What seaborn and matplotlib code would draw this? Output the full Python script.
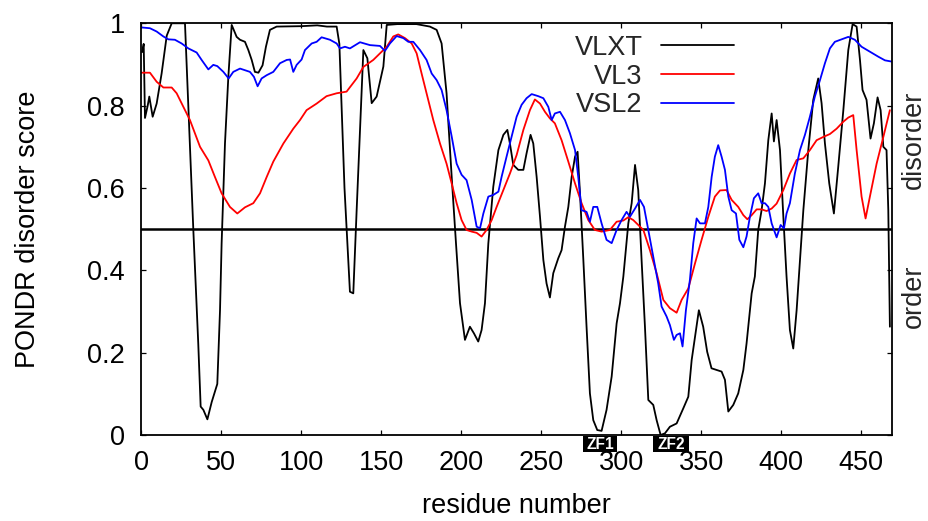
import matplotlib
matplotlib.use("Agg")
import matplotlib.pyplot as plt
from matplotlib.patches import Rectangle
import pandas as pd
import seaborn as sns

# PONDR VLXT predictor
vlxt_res = [0.5, 1.5, 2.3, 4, 5, 7.1, 9.6, 12.7, 15.9, 19, 27.3, 32.5, 35.6, 37.1, 38.8,
            41.3, 44, 47.5, 49.2, 50.2, 52.3, 54.4, 56.5, 59.6, 61.7, 64.8, 66.9, 69, 71,
            73.2, 75.8, 77.9, 80.4, 84.6, 100, 110, 116, 122.1, 123.8, 127, 130.4, 132.5,
            134.6, 138.8, 141.3, 144, 147.1, 149.2, 151.3, 153.4, 160, 172, 180.4, 184.6,
            187.7, 190.8, 194, 196.7, 199.2, 202.3, 205.4, 207.9, 210.6, 212.7, 214.8,
            216.9, 220, 223.2, 226.3, 228.8, 230.4, 232.5, 235.6, 238.8, 240.8, 243.3, 245,
            247.1, 249.2, 251.3, 253.3, 255.4, 257.5, 260.6, 262.7, 264.8, 266.9, 269,
            271.1, 272.7, 274.2, 276.3, 278.3, 280.4, 282.5, 285, 287.7, 290.8, 294, 297.1,
            299.2, 301.3, 304.4, 306.5, 308.6, 310.6, 312.7, 314.8, 316.9, 320, 322.1,
            324.6, 327.3, 330.4, 334.6, 338.8, 341.9, 344, 346.1, 348.5, 351.2, 353.7,
            356.4, 359.6, 362.7, 364.8, 366.9, 370, 373.1, 376.3, 378.3, 381.5, 383.5,
            385.6, 387.7, 389.8, 391.9, 394, 395.4, 397.1, 399.2, 401.3, 403.3, 405.4,
            407.5, 409.6, 411.7, 413.8, 416.9, 420, 423.1, 425.2, 427.3, 430, 432.9, 435.6,
            438.8, 441.9, 444.6, 447.1, 449.2, 450.8, 453.3, 455.8, 457.9, 460.2, 462.1,
            463.8, 465.8, 466.9, 467.9]
vlxt_score = [0.93, 0.95, 0.77, 0.80, 0.822, 0.773, 0.805, 0.878, 0.97, 1.0, 1.0, 0.5,
              0.222, 0.069, 0.061, 0.038, 0.08, 0.124, 0.303, 0.465, 0.708, 0.87, 0.996,
              0.967, 0.96, 0.955, 0.935, 0.911, 0.882, 0.88, 0.898, 0.943, 0.984, 0.992,
              0.993, 0.995, 0.992, 0.992, 0.95, 0.6, 0.348, 0.344, 0.546, 0.935, 0.915,
              0.806, 0.822, 0.858, 0.895, 0.996, 0.998, 0.998, 0.992, 0.984, 0.951, 0.83,
              0.627, 0.465, 0.32, 0.231, 0.263, 0.247, 0.227, 0.255, 0.32, 0.465, 0.603,
              0.692, 0.729, 0.741, 0.708, 0.656, 0.644, 0.644, 0.684, 0.729, 0.708, 0.627,
              0.53, 0.425, 0.368, 0.334, 0.393, 0.429, 0.449, 0.506, 0.554, 0.627, 0.676,
              0.688, 0.587, 0.425, 0.263, 0.101, 0.036, 0.012, 0.01, 0.061, 0.142, 0.271,
              0.32, 0.385, 0.514, 0.563, 0.656, 0.595, 0.425, 0.263, 0.085, 0.073, 0.036,
              0.0, 0.004, 0.02, 0.028, 0.065, 0.093, 0.182, 0.239, 0.303, 0.263, 0.202,
              0.162, 0.158, 0.154, 0.134, 0.057, 0.073, 0.101, 0.158, 0.222, 0.344, 0.385,
              0.498, 0.546, 0.611, 0.716, 0.781, 0.713, 0.765, 0.692, 0.53, 0.385, 0.255,
              0.21, 0.303, 0.425, 0.546, 0.692, 0.814, 0.866, 0.806, 0.708, 0.611, 0.538,
              0.651, 0.789, 0.935, 0.998, 0.992, 0.911, 0.838, 0.814, 0.72, 0.757, 0.82,
              0.789, 0.70, 0.692, 0.546, 0.263]

# PONDR VL3 predictor
vl3_res = [0, 5.4, 9.6, 13.8, 19, 22.1, 26.3, 30.4, 33.6, 36.7, 41.9, 46, 50.2, 55.4, 60,
           64.8, 70, 74.2, 78.4, 82.5, 88.8, 95, 99.2, 103.3, 109.6, 115.8, 122.1, 128.3,
           134.6, 138.8, 145, 151.3, 153.4, 157.5, 160.6, 164.8, 169, 172.1, 175.2, 178.3,
           182.5, 186.7, 190.8, 194, 197.1, 200.2, 203.3, 206.5, 209.6, 212.7, 215.8, 219,
           222.1, 226.3, 230.4, 234.6, 238.8, 242.9, 246, 249.2, 252.3, 255.4, 258.5,
           262.7, 266.9, 271.1, 275.2, 279.4, 283.5, 287.7, 292.9, 297.1, 301.3, 304.4,
           307.5, 309.6, 313.8, 317.9, 322.1, 326.3, 330.4, 334.6, 337.7, 341.9, 346.1,
           350.2, 354.4, 358.5, 361.7, 365.8, 369, 373.1, 376.3, 378.8, 381.5, 384.6,
           387.7, 390.8, 394, 397.1, 401.3, 405.4, 409.6, 413.8, 417.9, 422.1, 426.3,
           430.4, 434.6, 438.8, 441.9, 445, 447.1, 450.2, 452.7, 455.4, 459.6, 463.8, 467.9]
vl3_score = [0.88, 0.88, 0.858, 0.844, 0.844, 0.83, 0.797, 0.765, 0.732, 0.70, 0.667,
             0.627, 0.587, 0.554, 0.538, 0.553, 0.563, 0.587, 0.627, 0.664, 0.708, 0.744,
             0.765, 0.789, 0.805, 0.823, 0.83, 0.834, 0.866, 0.894, 0.911, 0.935, 0.943,
             0.968, 0.973, 0.964, 0.951, 0.927, 0.878, 0.83, 0.765, 0.708, 0.659, 0.611,
             0.563, 0.522, 0.498, 0.494, 0.491, 0.482, 0.498, 0.522, 0.554, 0.595, 0.635,
             0.68, 0.741, 0.789, 0.815, 0.805, 0.785, 0.769, 0.757, 0.716, 0.664, 0.611,
             0.563, 0.522, 0.498, 0.494, 0.498, 0.518, 0.521, 0.529, 0.522, 0.514, 0.498,
             0.449, 0.393, 0.328, 0.308, 0.297, 0.328, 0.356, 0.417, 0.474, 0.53, 0.579,
             0.594, 0.595, 0.571, 0.554, 0.534, 0.524, 0.534, 0.548, 0.548, 0.544, 0.55,
             0.562, 0.595, 0.635, 0.668, 0.672, 0.692, 0.716, 0.724, 0.731, 0.744, 0.761,
             0.771, 0.777, 0.692, 0.579, 0.526, 0.579, 0.659, 0.724, 0.789]

# PONDR VSL2 predictor
vsl2_res = [0, 5.4, 9.6, 13.8, 16.9, 21, 25.2, 29.4, 34.6, 37.7, 41.9, 45, 47.5, 51.3,
            54.6, 57.5, 61.7, 64.8, 67.9, 70.4, 72.7, 75.2, 78.4, 82.5, 86.7, 90.9, 93, 95,
            97.1, 100.2, 102.3, 106.5, 109.6, 112.7, 117.9, 122.1, 124.2, 127.3, 130.4,
            136.7, 142.9, 149.2, 152.3, 155.4, 159.6, 163.8, 166.9, 170, 174.2, 178.3,
            181.5, 184.6, 187.7, 190.8, 194, 197.1, 200.2, 203.3, 206.5, 209.6, 211.7,
            213.8, 216.9, 220, 223.2, 225.2, 228.3, 231.5, 234.6, 237.7, 240.8, 244, 248.1,
            251.3, 254.4, 256.5, 258.5, 261.7, 264.8, 267.9, 271.1, 273.1, 275.2, 278.3,
            280.4, 282.5, 285, 287.7, 290.8, 294, 297.1, 300.2, 303.3, 305.4, 308.6, 311.7,
            314.2, 316.9, 320, 323.1, 325.2, 328.3, 330.4, 332.9, 334.6, 336.7, 338.3,
            340.4, 342.9, 345, 347.1, 349.2, 352.3, 354.4, 356.5, 358.5, 360.6, 362.7,
            364.8, 366.9, 369, 371.7, 373.8, 376.3, 378.3, 380.4, 382.9, 385.6, 387.7,
            389.8, 391.9, 394, 397.1, 399.6, 401.7, 403.3, 405.4, 408.5, 411.7, 414.8,
            417.9, 421, 424.2, 427.3, 430.4, 433.5, 437.7, 441.9, 446, 450.2, 455.4, 460.6,
            464.8, 469]
vsl2_score = [0.99, 0.988, 0.98, 0.968, 0.961, 0.96, 0.951, 0.939, 0.929, 0.911, 0.888,
              0.899, 0.896, 0.882, 0.866, 0.882, 0.89, 0.886, 0.882, 0.87, 0.847, 0.866,
              0.874, 0.882, 0.903, 0.911, 0.912, 0.882, 0.899, 0.912, 0.935, 0.951, 0.955,
              0.966, 0.96, 0.951, 0.939, 0.943, 0.939, 0.954, 0.947, 0.945, 0.933, 0.951,
              0.969, 0.964, 0.955, 0.955, 0.935, 0.911, 0.878, 0.862, 0.838, 0.789, 0.725,
              0.659, 0.632, 0.619, 0.571, 0.506, 0.502, 0.538, 0.579, 0.583, 0.591, 0.627,
              0.676, 0.725, 0.773, 0.802, 0.818, 0.828, 0.823, 0.818, 0.797, 0.765, 0.781,
              0.785, 0.765, 0.733, 0.692, 0.627, 0.546, 0.542, 0.518, 0.554, 0.554, 0.514,
              0.474, 0.466, 0.498, 0.522, 0.542, 0.53, 0.55, 0.571, 0.554, 0.498, 0.433,
              0.368, 0.312, 0.288, 0.267, 0.231, 0.243, 0.247, 0.215, 0.303, 0.377, 0.466,
              0.526, 0.514, 0.514, 0.554, 0.627, 0.676, 0.704, 0.676, 0.644, 0.579, 0.546,
              0.538, 0.474, 0.456, 0.482, 0.53, 0.575, 0.587, 0.563, 0.563, 0.554, 0.514,
              0.48, 0.51, 0.502, 0.538, 0.563, 0.635, 0.692, 0.729, 0.773, 0.822, 0.862,
              0.903, 0.939, 0.955, 0.961, 0.967, 0.96, 0.943, 0.931, 0.919, 0.91, 0.907]

predictors = ["VLXT", "VL3", "VSL2"]
colors = {"VLXT": "#000000", "VL3": "#ff0000", "VSL2": "#0000ff"}

# zinc finger domains along the sequence
zf_names = ["ZF1", "ZF2"]
zf_start = [276, 320]
zf_end = [297.5, 342.3]

threshold = 0.5

df = pd.concat([
    pd.DataFrame({"residue": vlxt_res, "score": vlxt_score, "predictor": "VLXT"}),
    pd.DataFrame({"residue": vl3_res, "score": vl3_score, "predictor": "VL3"}),
    pd.DataFrame({"residue": vsl2_res, "score": vsl2_score, "predictor": "VSL2"}),
], ignore_index=True)

sns.set_theme(style="ticks")
plt.rcParams["font.family"] = ["Liberation Sans", "DejaVu Sans"]
FS = 19.5

fig = plt.figure(figsize=(9.29, 5.21), dpi=100)
ax = fig.add_axes([0.1521, 0.1651, 0.8077, 0.7902])

sns.lineplot(data=df, x="residue", y="score", hue="predictor", hue_order=predictors,
             palette=colors, estimator=None, sort=False, linewidth=1.3, ax=ax)
ax.axhline(threshold, color="black", linewidth=1.8, zorder=1)

ax.set_xlim(0, 469)
ax.set_ylim(0, 1)
ax.set_xticks(range(0, 451, 50))
ax.set_yticks([0, 0.2, 0.4, 0.6, 0.8, 1.0])
ax.set_yticklabels(["0", "0.2", "0.4", "0.6", "0.8", "1"])
ax.tick_params(direction="in", length=3.6, width=0.9, top=True, right=True,
               labelsize=FS, color="black", labelcolor="black")
ax.tick_params(axis="x", pad=11)
ax.tick_params(axis="y", pad=12)
for s in ax.spines.values():
    s.set_linewidth(1.3)
    s.set_color("black")

ax.set_xlabel("residue number", fontsize=FS, labelpad=12, color="black")
ax.set_ylabel("PONDR disorder score", fontsize=FS, labelpad=33, color="black")

handles, labels = ax.get_legend_handles_labels()
leg = ax.legend(handles, labels, loc="upper right", bbox_to_anchor=(0.790, 0.972),
                frameon=False, markerfirst=False, fontsize=FS, handlelength=2.7,
                handletextpad=0.68, labelspacing=0.1, borderpad=0, borderaxespad=0)
for line in leg.get_lines():
    line.set_linewidth(1.3)

ax.text(1.03, 0.717, "disorder", rotation=90, ha="center", va="center",
        fontsize=FS, transform=ax.transAxes)
ax.text(1.03, 0.338, "order", rotation=90, ha="center", va="center",
        fontsize=FS, transform=ax.transAxes)

trans = ax.get_xaxis_transform()
for name, a, b in zip(zf_names, zf_start, zf_end):
    ax.add_patch(Rectangle((a, -0.0406), b - a, 0.0382, transform=trans,
                           facecolor="black", edgecolor="none", clip_on=False))
    ax.text((a + b) / 2, -0.0347, name, transform=trans, ha="center", va="baseline",
            color="white", fontweight="bold", fontsize=11.2, clip_on=False)

fig.savefig("out.png", dpi=100)
